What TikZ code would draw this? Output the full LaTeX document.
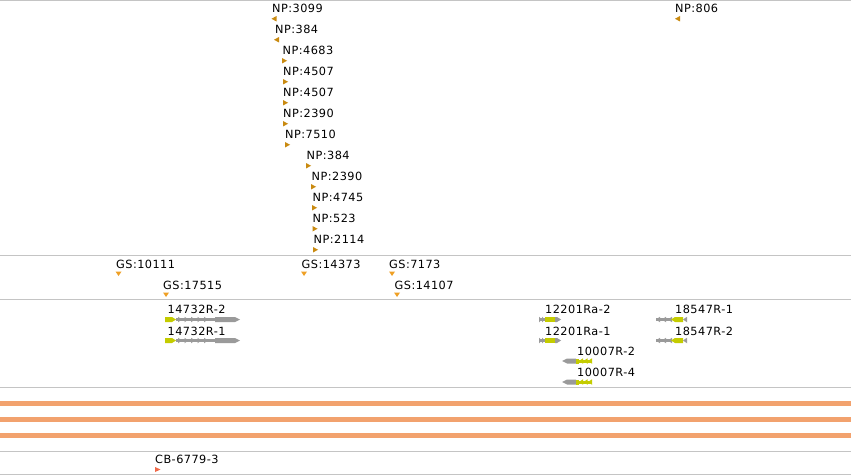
\documentclass[tikz,border=0pt]{standalone}
\usepackage{fontspec}
\newfontfamily\labfont[LetterSpace=4]{DejaVu Sans}
\definecolor{gridgray}{HTML}{C4C4C4}
\definecolor{npcol}{HTML}{C98A10}
\definecolor{gscol}{HTML}{EFA025}
\definecolor{cdscol}{HTML}{C4CC00}
\definecolor{genegray}{HTML}{9A9A9A}
\definecolor{barcol}{HTML}{F2A26E}
\definecolor{cbcol}{HTML}{F06A4A}
\tikzset{
  lab/.style={anchor=base west, inner sep=0pt, font={\labfont\fontsize{11.3}{13}\selectfont}, text=black},
  sepline/.style={draw=gridgray, line width=1pt},
  bar/.style={draw=barcol, line width=5pt}
}
% left-pointing NP marker
\newcommand{\npL}[2]{\fill[npcol] (#1+5,#2) -- (#1,#2+2.75) -- (#1+5,#2+5.5) -- cycle;}
% right-pointing NP marker
\newcommand{\npR}[2]{\fill[npcol] (#1,#2) -- (#1+5,#2+2.75) -- (#1,#2+5.5) -- cycle;}
% down-pointing GS marker
\newcommand{\gsD}[2]{\fill[gscol] (#1,#2) -- (#1+6,#2) -- (#1+3,#2+4.5) -- cycle;}
% gene glyphs
\newcommand{\glyphA}[1]{%
  \fill[cdscol] (165,#1-2.5) -- (172,#1-2.5) -- (176,#1) -- (172,#1+2.5) -- (165,#1+2.5) -- cycle;
  \fill[genegray] (176,#1-1.5) rectangle (215,#1+1.5);
  \foreach \xx in {182,188.5,...,214} {\fill[genegray] (\xx-4,#1-2.75) -- (\xx,#1) -- (\xx-4,#1+2.75) -- cycle;}
  \fill[genegray] (215,#1-2.5) -- (235,#1-2.5) -- (240,#1) -- (235,#1+2.5) -- (215,#1+2.5) -- cycle;}
\newcommand{\glyphB}[1]{%
  \fill[genegray] (539,#1-1.5) rectangle (545,#1+1.5);
  \foreach \xx in {542,545} {\fill[genegray] (\xx-3,#1-2.75) -- (\xx,#1) -- (\xx-3,#1+2.75) -- cycle;}
  \fill[cdscol] (545,#1-2.5) rectangle (555,#1+2.5);
  \fill[genegray] (555,#1-2.5) -- (557,#1-2.5) -- (561,#1) -- (557,#1+2.5) -- (555,#1+2.5) -- cycle;}
\newcommand{\glyphC}[1]{%
  \fill[genegray] (562,#1) -- (567,#1-2.5) -- (576,#1-2.5) -- (576,#1+2.5) -- (567,#1+2.5) -- cycle;
  \fill[cdscol] (576,#1-2.5) rectangle (579,#1+2.5);
  \fill[cdscol] (579,#1-1.5) rectangle (592,#1+1.5);
  \foreach \xx in {579,583.5,588} {\fill[cdscol] (\xx,#1) -- (\xx+4,#1-2.75) -- (\xx+4,#1+2.75) -- cycle;}}
\newcommand{\glyphD}[1]{%
  \fill[genegray] (656,#1-1.5) rectangle (672,#1+1.5);
  \foreach \xx in {656,662,668} {\fill[genegray] (\xx,#1) -- (\xx+4,#1-2.75) -- (\xx+4,#1+2.75) -- cycle;}
  \fill[cdscol] (671,#1) -- (675,#1-2.5) -- (683,#1-2.5) -- (683,#1+2.5) -- (675,#1+2.5) -- cycle;
  \fill[genegray] (683,#1) -- (687,#1-2.75) -- (687,#1+2.75) -- cycle;}
\begin{document}
\begin{tikzpicture}[x=1pt,y=-1pt]
\useasboundingbox (0,0) rectangle (851,476);
\fill[white] (0,0) rectangle (851,476);
% separator lines
\foreach \yy in {0.5,255.5,299.5,387.5,451.5,474.5} {\draw[sepline] (0,\yy) -- (851,\yy);}
% NP labels
\node[lab] (np1) at (272,12.5) {NP:3099};   \npL{271.5}{16}
\node[lab] (np2) at (275,33.5) {NP:384};    \npL{274}{37}
\node[lab] (np3) at (282.5,54.5) {NP:4683}; \npR{282}{58}
\node[lab] (np4) at (283,75.5) {NP:4507};   \npR{283}{79}
\node[lab] (np5) at (283,96.5) {NP:4507};   \npR{283}{100}
\node[lab] (np6) at (283,117.5) {NP:2390};  \npR{283}{121}
\node[lab] (np7) at (285,138.5) {NP:7510};  \npR{285}{142}
\node[lab] (np8) at (306.5,159.5) {NP:384}; \npR{306}{163}
\node[lab] (np9) at (311.5,180.5) {NP:2390};\npR{311}{184}
\node[lab] (np10) at (312.5,201.5) {NP:4745};\npR{312}{205}
\node[lab] (np11) at (312.5,222.5) {NP:523}; \npR{312.5}{226}
\node[lab] (np12) at (313.5,243.5) {NP:2114};\npR{313}{247}
\node[lab] (np13) at (675,12.5) {NP:806};   \npL{675}{16}
% GS labels
\node[lab] (gs1) at (116,268.5) {GS:10111}; \gsD{115.5}{271.5}
\node[lab] (gs2) at (163,289.5) {GS:17515}; \gsD{163}{292.5}
\node[lab] (gs3) at (301.5,268.5) {GS:14373}; \gsD{301}{271.5}
\node[lab] (gs4) at (389,268.5) {GS:7173}; \gsD{389}{271.5}
\node[lab] (gs5) at (394.5,289.5) {GS:14107}; \gsD{394}{292.5}
% genes
\node[lab] (g1) at (167.5,313.5) {14732R-2}; \glyphA{319.5}
\node[lab] (g2) at (167.5,335.5) {14732R-1}; \glyphA{340.5}
\node[lab] (g3) at (545,313.5) {12201Ra-2}; \glyphB{319.5}
\node[lab] (g4) at (545,335.5) {12201Ra-1}; \glyphB{340.5}
\node[lab] (g5) at (577,355.5) {10007R-2}; \glyphC{361}
\node[lab] (g6) at (577,376.5) {10007R-4}; \glyphC{382}
\node[lab] (g7) at (675,313.5) {18547R-1}; \glyphD{319.5}
\node[lab] (g8) at (675,335.5) {18547R-2}; \glyphD{340.5}
% orange bars
\foreach \yy in {403.3,419.3,435.3} {\draw[bar] (0,\yy) -- (851,\yy);}
% CB
\node[lab] (cb) at (155,463.5) {CB-6779-3};
\fill[cbcol] (155,467) -- (160.5,469.5) -- (155,472) -- cycle;
\end{tikzpicture}
\end{document}
